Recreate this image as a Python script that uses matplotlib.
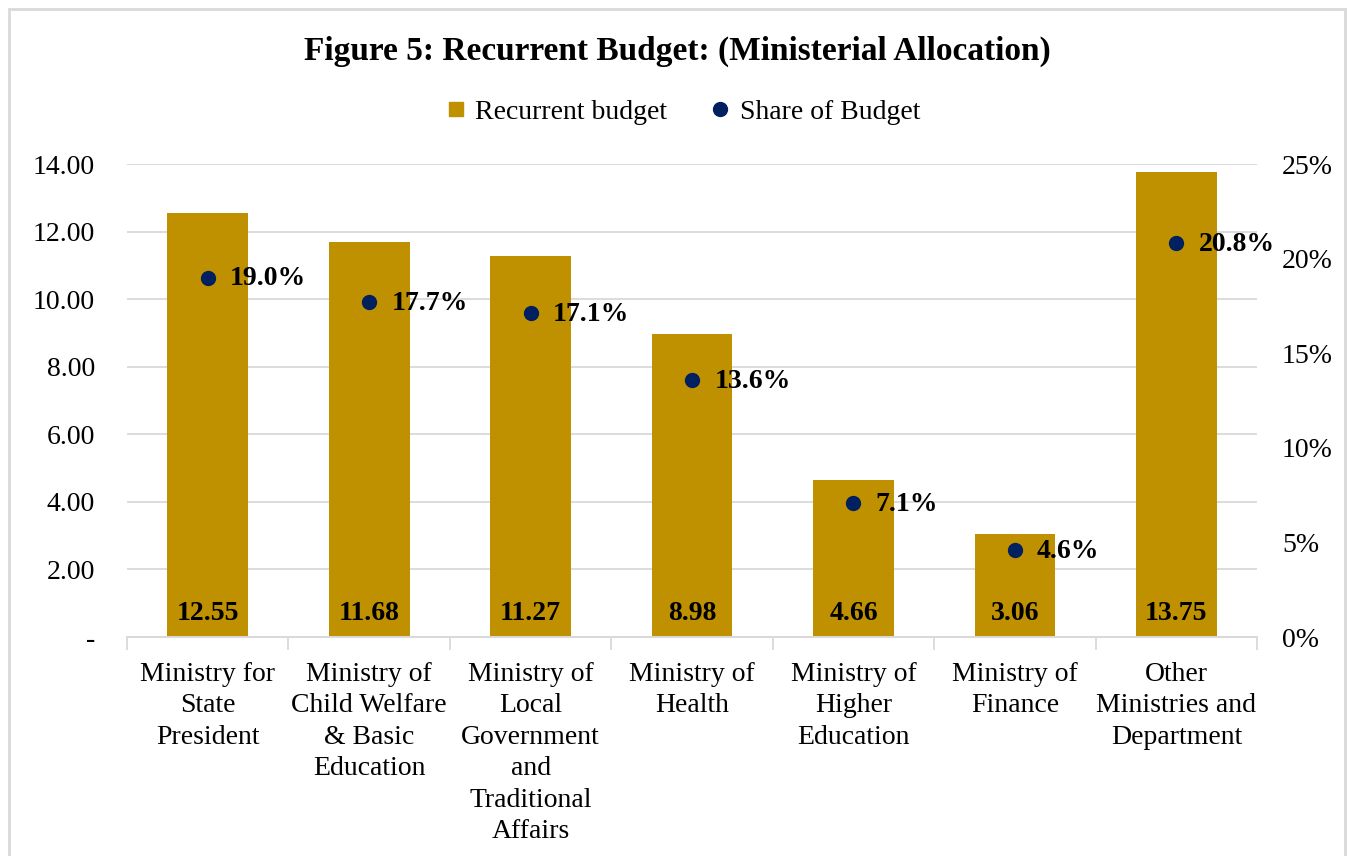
import matplotlib.pyplot as plt
import matplotlib.ticker as mticker
from matplotlib.patches import Rectangle
from matplotlib.lines import Line2D

plt.rcParams['font.family'] = ['Liberation Serif', 'DejaVu Serif']

# Data
ministries = ['Ministry for\nState\nPresident',
              'Ministry of\nChild Welfare\n& Basic\nEducation',
              'Ministry of\nLocal\nGovernment\nand\nTraditional\nAffairs',
              'Ministry of\nHealth',
              'Ministry of\nHigher\nEducation',
              'Ministry of\nFinance',
              'Other\nMinistries and\nDepartment']
budget = [12.55, 11.68, 11.27, 8.98, 4.66, 3.06, 13.75]
share = [19.0, 17.7, 17.1, 13.6, 7.1, 4.6, 20.8]

gold = '#BF9000'
navy = '#002060'
grid_col = '#D9D9D9'
fs = 20

fig = plt.figure(figsize=(13.54, 8.56), dpi=100)
ax = fig.add_axes([0.0938, 0.2558, 0.8346, 0.5526])
ax2 = ax.twinx()

x = range(len(ministries))
ax.bar(x, budget, width=0.5, color=gold, zorder=2)
for i, v in enumerate(budget):
    ax.annotate(f'{v:.2f}', (i, 0), xytext=(0, 12), textcoords='offset points',
                ha='center', va='baseline', fontsize=fs, fontweight='bold')

ax.set_xlim(-0.5, len(ministries) - 0.5)
ax.set_ylim(0, 14)
ax.set_yticks([0, 2, 4, 6, 8, 10, 12, 14])
ax.yaxis.set_major_formatter(mticker.FuncFormatter(lambda v, p: '-' if v == 0 else f'{v:.2f}'))
ax.grid(axis='y', color=grid_col, linewidth=1.3, zorder=0)
ax.set_axisbelow(True)

ax.set_xticks(list(x))
ax.set_xticklabels(ministries, fontsize=fs, linespacing=1.34)
ax.tick_params(axis='x', length=0, pad=18)
ax.set_xticks([i + 0.5 for i in range(-1, len(ministries))], minor=True)
ax.tick_params(axis='x', which='minor', length=9, color=grid_col, width=1.3)
ax.tick_params(axis='y', length=0, labelsize=fs, pad=23)

ax2.scatter(list(x), share, s=100, color=navy, zorder=3)
for i, s in enumerate(share):
    ax2.annotate(f'{s:.1f}%', (i, s), xytext=(16, -1), textcoords='offset points',
                 ha='left', va='center', fontsize=fs, fontweight='bold')
ax2.set_ylim(0, 25)
ax2.set_yticks([0, 5, 10, 15, 20, 25])
ax2.yaxis.set_major_formatter(mticker.FuncFormatter(lambda v, p: f'{v:.0f}%'))
ax2.tick_params(axis='y', length=0, labelsize=fs, pad=18)

for a in (ax, ax2):
    for side in ('top', 'left', 'right'):
        a.spines[side].set_visible(False)
    a.spines['bottom'].set_color(grid_col)
    a.spines['bottom'].set_linewidth(1.3)

fig.text(0.5, 0.94, 'Figure 5: Recurrent Budget: (Ministerial Allocation)',
         ha='center', va='center', fontsize=24, fontweight='bold')

handles = [Line2D([], [], marker='s', color=gold, linestyle='none', markersize=10),
           Line2D([], [], marker='o', color=navy, linestyle='none', markersize=10)]
fig.legend(handles=handles, labels=['Recurrent budget', 'Share of Budget'],
           loc='center', bbox_to_anchor=(0.505, 0.869), ncol=2, frameon=False,
           fontsize=fs, handlelength=0.6, handletextpad=0.4, columnspacing=1.6)

fig.patches.append(Rectangle((0.007, -0.01), 0.986, 1.0, transform=fig.transFigure,
                             fill=False, edgecolor=grid_col, linewidth=2))

fig.savefig('out.png', dpi=100)
